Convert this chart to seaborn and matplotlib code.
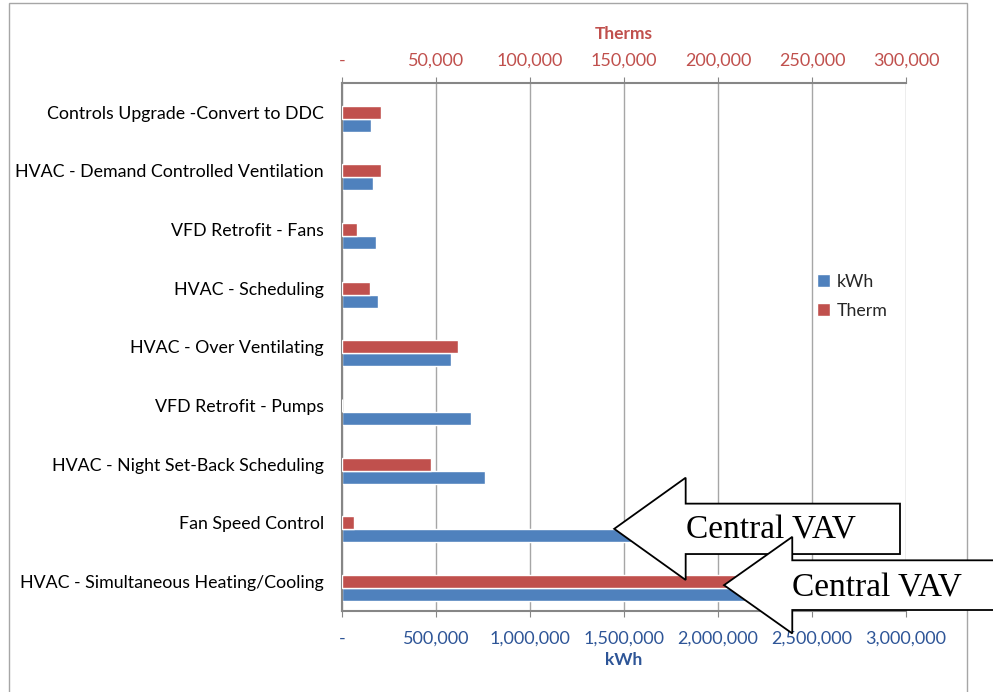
import seaborn as sns
import matplotlib.pyplot as plt
import pandas as pd
import numpy as np
from matplotlib.patches import FancyArrow, Rectangle, Patch
from matplotlib.ticker import FuncFormatter

# Energy savings per measure
measures = [
    'Controls Upgrade -Convert to DDC',
    'HVAC - Demand Controlled Ventilation',
    'VFD Retrofit - Fans',
    'HVAC - Scheduling',
    'HVAC - Over Ventilating',
    'VFD Retrofit - Pumps',
    'HVAC - Night Set-Back Scheduling',
    'Fan Speed Control',
    'HVAC - Simultaneous Heating/Cooling',
]
kwh = [156000, 167000, 183000, 190000, 580000, 685000, 760000, 1600000, 2200000]
therms = [20600, 20600, 8100, 14900, 61900, 0, 47600, 6600, 220000]

kwh_ticks = [0, 500000, 1000000, 1500000, 2000000, 2500000, 3000000]
therm_ticks = [0, 50000, 100000, 150000, 200000, 250000, 300000]

sns.set_style('white')
plt.rcParams['font.family'] = ['Lato', 'DejaVu Sans']

blue = '#4F81BD'
red = '#C0504D'
grey = '#868686'
# empty first level keeps the red bar centred on the category, blue below it
hue_order = ['', 'Therm', 'kWh']
palette = {'': 'white', 'Therm': red, 'kWh': blue}

kwh_df = pd.DataFrame({'measure': measures, 'value': kwh, 'series': 'kWh'})
therm_df = pd.DataFrame({'measure': measures, 'value': therms, 'series': 'Therm'})

fig = plt.figure(figsize=(9.93, 6.92), dpi=100)
ax = fig.add_axes([0.3444, 0.1171, 0.5680, 0.7630])
ax2 = ax.twiny()

sns.barplot(data=kwh_df, x='value', y='measure', hue='series', order=measures,
            hue_order=hue_order, palette=palette, dodge=True, width=0.665,
            saturation=1, errorbar=None, legend=False, ax=ax)
sns.barplot(data=therm_df, x='value', y='measure', hue='series', order=measures,
            hue_order=hue_order, palette=palette, dodge=True, width=0.665,
            saturation=1, errorbar=None, legend=False, ax=ax2)

fmt = FuncFormatter(lambda v, p: '-' if v == 0 else f'{v:,.0f}')

# bottom axis: kWh
ax.set_xlim(0, 3000000)
ax.set_xticks(kwh_ticks)
ax.xaxis.set_major_formatter(fmt)
ax.tick_params(axis='x', which='major', direction='out', length=4, color=grey,
               labelcolor='#2E5597', labelsize=13, pad=10)
ax.set_xlabel('kWh', color='#2E5597', fontsize=12.5, fontweight='bold', labelpad=4)
ax.xaxis.grid(True, color='#A6A6A6', lw=1)
ax.set_axisbelow(True)

# top axis: Therms
ax2.set_xlim(0, 300000)
ax2.set_xticks(therm_ticks)
ax2.xaxis.set_major_formatter(fmt)
ax2.tick_params(axis='x', which='major', direction='out', length=4, color=grey,
                labelcolor=red, labelsize=13, pad=6)
ax2.set_xlabel('Therms', color=red, fontsize=12.5, fontweight='bold', labelpad=10)
ax2.grid(False)

# category axis
ax.set_ylabel('')
ax2.set_ylabel('')
ax.set_yticks(np.arange(len(measures) + 1) - 0.5, minor=True)
ax.tick_params(axis='y', which='major', length=0, labelsize=12.8, pad=13, labelcolor='black')
ax.tick_params(axis='y', which='minor', direction='out', length=5, width=1, color=grey)
ax.set_ylim(len(measures) - 0.5, -0.5)

for s in ['right', 'top']:
    ax.spines[s].set_visible(False)
for s in ['left', 'bottom']:
    ax.spines[s].set_color(grey)
    ax.spines[s].set_linewidth(1.5)
for s in ['left', 'right', 'bottom']:
    ax2.spines[s].set_visible(False)
ax2.spines['top'].set_color(grey)
ax2.spines['top'].set_linewidth(1.5)

handles = [Patch(facecolor=blue, label='kWh'), Patch(facecolor=red, label='Therm')]
ax2.legend(handles=handles, loc='center left', bbox_to_anchor=(0.813, 0.596),
           frameon=False, fontsize=12.8, handlelength=0.75, handleheight=0.75,
           handletextpad=0.4, labelspacing=0.7)

# "Central VAV" callout arrows
serif = ['Liberation Serif', 'DejaVu Serif']
arrow1 = FancyArrow(2968000, 7.10, 1448000 - 2968000, 0, width=0.859, head_width=1.743,
                    head_length=380000, length_includes_head=True, transform=ax.transData,
                    fc='white', ec='black', lw=1.3, clip_on=False, zorder=5)
ax2.add_artist(arrow1)
ax2.text(1832000, 7.27, 'Central VAV', transform=ax.transData, family=serif,
         fontsize=24, color='black', zorder=6, clip_on=False)
arrow2 = FancyArrow(3650000, 8.06, 2032000 - 3650000, 0, width=0.847, head_width=1.647,
                    head_length=363000, length_includes_head=True, transform=ax.transData,
                    fc='white', ec='black', lw=1.3, clip_on=False, zorder=7)
ax2.add_artist(arrow2)
ax2.text(2392000, 8.25, 'Central VAV', transform=ax.transData, family=serif,
         fontsize=24, color='black', zorder=8, clip_on=False)

# chart area border
fig.add_artist(Rectangle((0.0091, -0.05), 0.9648, 1.0457, transform=fig.transFigure,
                         fill=False, ec='#A6A6A6', lw=1, zorder=-1))

fig.savefig('out.png', dpi=100)
